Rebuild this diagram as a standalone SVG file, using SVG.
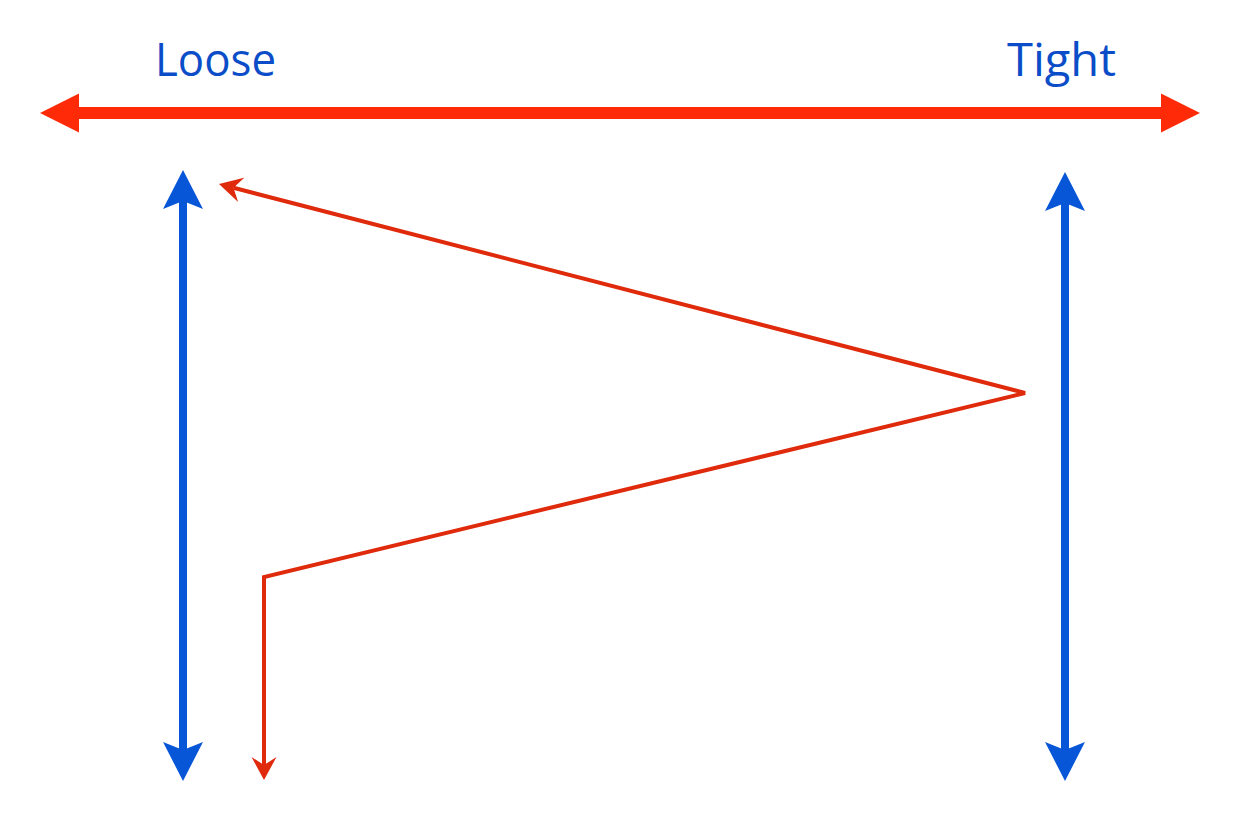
<svg xmlns="http://www.w3.org/2000/svg" width="1240" height="822" viewBox="0 0 1240 822">
  <style>
    .label { font-family: "Open Sans", "Liberation Sans", sans-serif; font-size: 46px; fill: #0b4dc8; }
    .scale { stroke: #ff2a08; stroke-width: 12; fill: none; }
    .axis { stroke: #0756d8; stroke-width: 8; fill: none; }
    .path { stroke: #e02a0c; stroke-width: 4; fill: none; stroke-linejoin: miter; }
  </style>
  <defs>
    <marker id="redBig" markerUnits="userSpaceOnUse" viewBox="0 -20 40 40" markerWidth="40" markerHeight="40" refX="1" refY="0" orient="auto-start-reverse">
      <path d="M0,-19.5 L39,0 L0,19.5 Z" fill="#ff2a08"/>
    </marker>
    <marker id="blueHead" markerUnits="userSpaceOnUse" viewBox="0 -21 40 42" markerWidth="40" markerHeight="42" refX="8" refY="0" orient="auto-start-reverse">
      <path d="M0,-20 L39,0 L0,20 L8,0 Z" fill="#0756d8"/>
    </marker>
    <marker id="redSmall" markerUnits="userSpaceOnUse" viewBox="0 -13 24 26" markerWidth="24" markerHeight="26" refX="8" refY="0" orient="auto-start-reverse">
      <path d="M0,-12.5 L23,0 L0,12.5 L8,0 Z" fill="#e02a0c"/>
    </marker>
  </defs>

  <g id="label-loose">
    <text class="label" x="155" y="76" textLength="121" lengthAdjust="spacingAndGlyphs">Loose</text>
  </g>
  <g id="label-tight">
    <text class="label" x="1007" y="76" textLength="109" lengthAdjust="spacingAndGlyphs">Tight</text>
  </g>

  <g id="connectors">
    <line id="scale-axis" class="scale" x1="78" y1="113" x2="1162" y2="113" marker-start="url(#redBig)" marker-end="url(#redBig)"/>
    <line id="loose-axis" class="axis" x1="183" y1="201" x2="183" y2="750" marker-start="url(#blueHead)" marker-end="url(#blueHead)"/>
    <line id="tight-axis" class="axis" x1="1065" y1="203" x2="1065" y2="750" marker-start="url(#blueHead)" marker-end="url(#blueHead)"/>
    <path id="zigzag" class="path" d="M233.5,187.8 L1025,393 L264,577 L264,765" marker-start="url(#redSmall)" marker-end="url(#redSmall)"/>
  </g>
</svg>
